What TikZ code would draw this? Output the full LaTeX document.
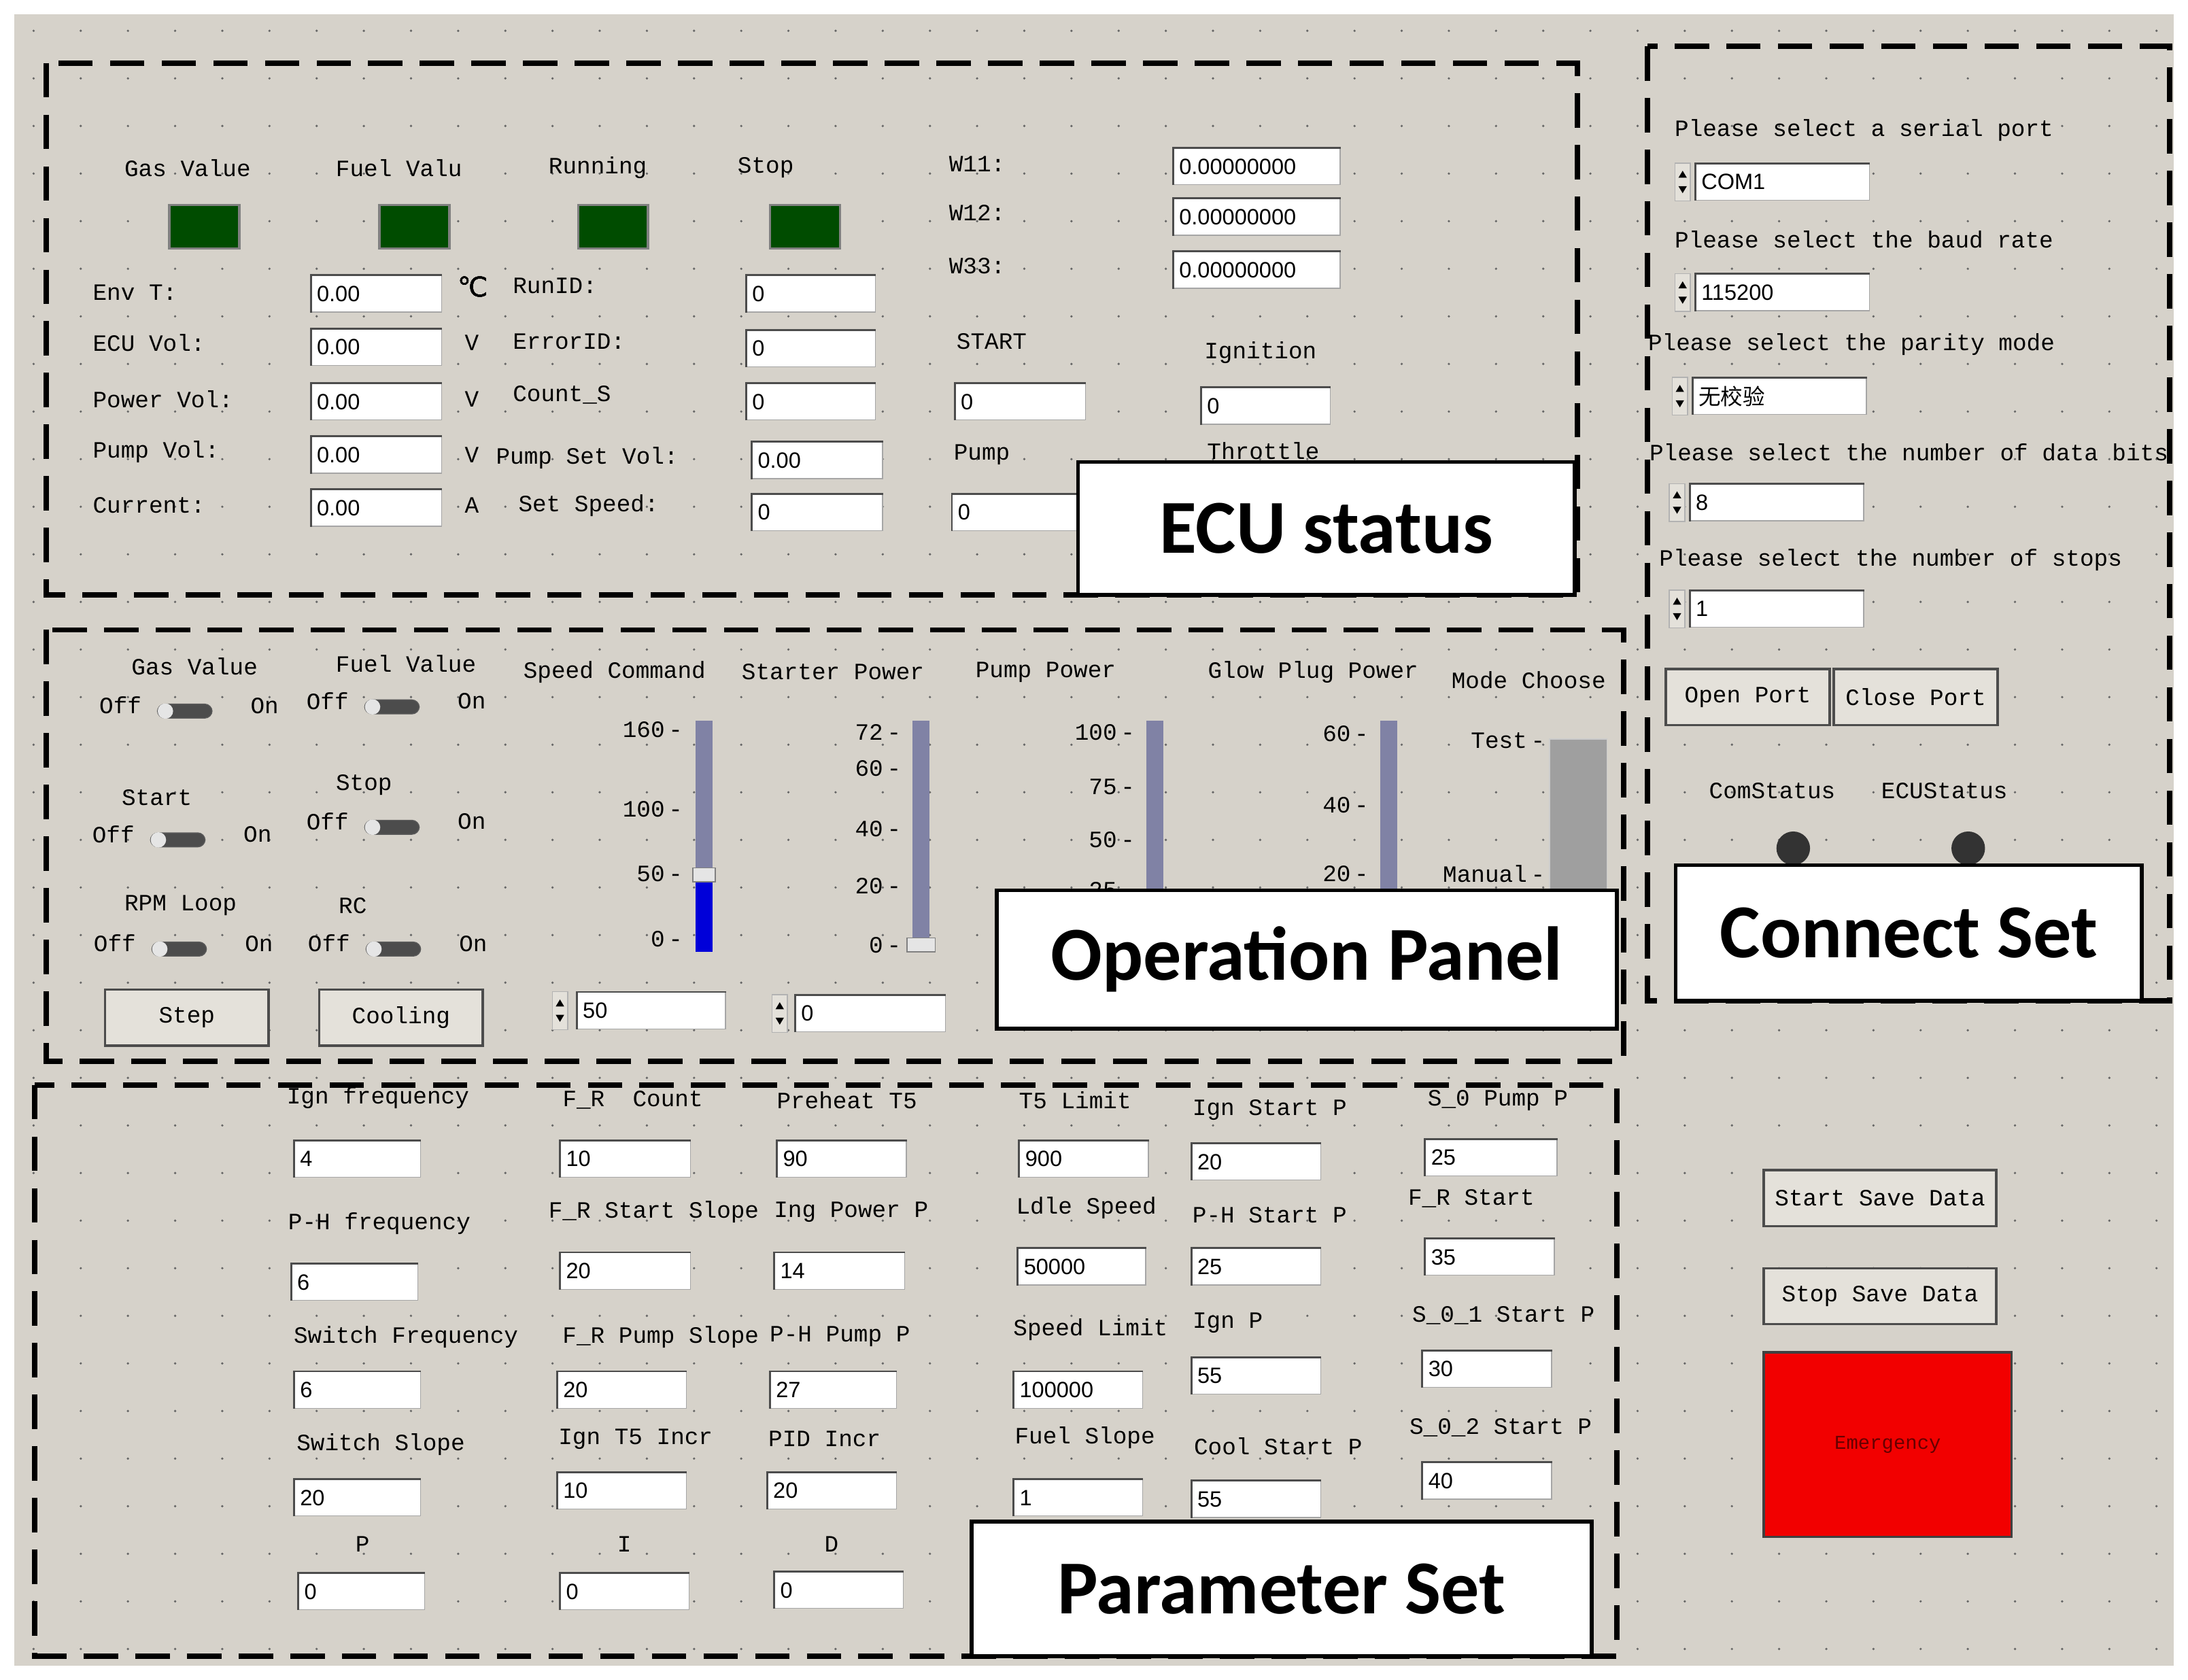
\documentclass[tikz,border=0pt]{standalone}
\usepackage{fontspec}
\usetikzlibrary{calc}
\setmainfont{Liberation Sans}
\newfontfamily\guimono{Liberation Mono}
\newfontfamily\bigf{Carlito}
\newfontfamily\cjk{Noto Sans CJK SC}
\newfontfamily\dejavu{DejaVu Sans}
\definecolor{bgc}{RGB}{214,210,202}
\definecolor{lightlab}{RGB}{228,225,218}
\definecolor{trk}{RGB}{128,130,165}
\begin{document}
\begin{tikzpicture}[x=0.02cm,y=-0.02cm,
 lab/.style={font=\guimono\fontsize{9.5}{10}\selectfont,inner sep=0pt},
 fld/.style={draw=gray!70,fill=white,minimum height=26*0.02cm,inner sep=0pt,anchor=west},
 fldt/.style={anchor=west,inner sep=0pt,font=\fontsize{9}{10}\selectfont},
 dbox/.style={line width=2.2pt,dash pattern=on 14pt off 7pt},
 bigbox/.style={draw,line width=1.6pt,fill=white,font=\bigf\bfseries\fontsize{31}{34}\selectfont},
 btn/.style={draw=gray!60!black,fill=lightlab,font=\guimono\fontsize{9.5}{10}\selectfont,inner sep=0pt}]
\useasboundingbox (0,0) rectangle (1563,1200);
\fill[white] (0,0) rectangle (1563,1200);
\fill[bgc] (10,10) rectangle (1553,1190);
\foreach \i in {0,...,45} \foreach \j in {0,...,34} \fill[black!60] (24+33.7*\i,22+34*\j) circle (0.9);
% macros
\newcommand\tf[5]{\node[fld,minimum width=(#3-#2)*0.02cm] (#1) at (#2,#4) {};
 \draw[gray!60!black,line width=0.8pt] (#1.south west) -- (#1.north west) -- (#1.north east);
 \node[fldt] at ($(#1.west)+(4,0)$) {#5};}
\newcommand\lb[3]{\node[lab] (#1) at #2 {#3};}
\newcommand\led[2]{\node[draw=gray,fill=green!30!black,minimum width=1cm,minimum height=0.62cm,line width=1pt] (#1) at #2 {};}
\newcommand\sw[2]{\node[draw=gray!70!black,fill=gray!60!black,rounded corners=3pt,minimum width=0.78cm,minimum height=0.2cm,inner sep=0pt] (#1) at #2 {};
 \fill[gray!20] ($(#1.west)+(6,0)$) circle (5.5);}
\newcommand\spin[2]{\node[draw=gray!60,fill=lightlab,minimum width=0.22cm,minimum height=0.54cm,inner sep=0pt] (#1) at #2 {};
 \fill ($(#1.center)+(-3,-3)$) -- ++(6,0) -- ++(-3,-5) -- cycle; \fill ($(#1.center)+(-3,3)$) -- ++(6,0) -- ++(-3,5) -- cycle;}
% ===== ECU status
\draw[dbox] (33,45) rectangle (1127,425);
\lb{a1}{(134,120)}{Gas Value}\lb{a2}{(285,120)}{Fuel Valu}\lb{a3}{(427,120)}{Running}\lb{a4}{(547,120)}{Stop}
\led{l1}{(146,162)}\led{l2}{(296,162)}\led{l3}{(438,162)}\led{l4}{(575,162)}
\lb{w1}{(698,117)}{W11:}\lb{w2}{(698,152)}{W12:}\lb{w3}{(698,190)}{W33:}
\tf{fw1}{838}{957}{119}{0.00000000}\tf{fw2}{838}{957}{155}{0.00000000}\tf{fw3}{838}{957}{193}{0.00000000}
\foreach \t/\y [count=\k] in {Env T:/209,ECU Vol:/245,Power Vol:/285,Pump Vol:/323,Current:/361}
 \node[lab,anchor=west] (el\k) at (66,\y) {\t};
\foreach \y [count=\k] in {210,248,287,325,363} \tf{ef\k}{222}{315}{\y}{0.00}
\node[font=\dejavu\fontsize{11}{12}\selectfont,inner sep=0pt] (u1) at (338,205) {℃};
\foreach \t/\y [count=\k from 2] in {V/245,V/285,V/325,A/361} \node[lab] (u\k) at (337,\y) {\t};
\node[lab,anchor=west] (m1) at (366,204) {RunID:};
\node[lab,anchor=west] (m2) at (366,244) {ErrorID:};
\node[lab,anchor=west] (m3) at (366,282) {Count\_S};
\node[lab,anchor=west] (m4) at (354,327) {Pump Set Vol:};
\node[lab,anchor=west] (m5) at (370,361) {Set Speed:};
\tf{mf1}{533}{625}{210}{0}\tf{mf2}{533}{625}{249}{0}\tf{mf3}{533}{625}{287}{0}
\tf{mf4}{537}{630}{329}{0.00}\tf{mf5}{537}{630}{366}{0}
\node[lab,anchor=west] (st) at (683,244) {START};\tf{stf}{682}{775}{287}{0}
\node[lab,anchor=west] (pu) at (681,325) {Pump};\tf{puf}{680}{775}{366}{0}
\node[lab,anchor=west] (ig) at (860,252) {Ignition};\tf{igf}{858}{950}{290}{0}
\node[lab,anchor=west] (th) at (862,322) {Throttle};
\node[bigbox,minimum width=7.1cm,minimum height=1.9cm] (B1) at (947.5,377.5) {ECU status};
% ===== Operation panel
\draw[dbox] (33,450) rectangle (1160,758);
\lb{g1}{(139,476)}{Gas Value}\lb{g2}{(290,474)}{Fuel Value}
\lb{g3}{(112,570)}{Start}\lb{g4}{(260,561)}{Stop}\lb{g5}{(129,647)}{RPM Loop}\lb{g6}{(252,647)}{RC}
\foreach \x/\y/\n in {132/508/1,280/505/2,127/600/3,280/591/4,128/678/5,281/678/6}{
 \sw{s\n}{(\x,\y)} \node[lab] (off\n) at (\x-46,\y-4) {Off}; \node[lab] (on\n) at (\x+57,\y-4) {On};}
\node[btn,minimum width=2.34cm,minimum height=0.8cm,line width=1pt] (bs) at (133.5,727) {Step};
\node[btn,minimum width=2.34cm,minimum height=0.8cm,line width=1pt] (bc) at (286.5,727) {Cooling};
\lb{h1}{(439,480)}{Speed Command}\lb{h2}{(595,480)}{Starter Power}\lb{h3}{(747,480)}{Pump Power}
\lb{h4}{(938,480)}{Glow Plug Power}\lb{h5}{(1092,486)}{Mode Choose}
% sliders
\fill[trk] (497,515) rectangle (509,680);\fill[blue!85!black] (497,625) rectangle (509,680);
\fill[gray!20,draw=gray] (495,620) rectangle (511,630);
\foreach \v/\y in {160/521,100/578,50/624,0/671} \node[lab,anchor=east] at (488,\y) {\v\,-};
\fill[trk] (652,515) rectangle (664,680);\fill[gray!20,draw=gray] (648,670) rectangle (668,680);
\foreach \v/\y in {72/523,60/549,40/592,20/633,0/675} \node[lab,anchor=east] at (644,\y) {\v\,-};
\fill[trk] (819,515) rectangle (831,680);
\foreach \v/\y in {100/523,75/562,50/600,25/636} \node[lab,anchor=east] at (811,\y) {\v\,-};
\fill[trk] (986,515) rectangle (998,680);
\foreach \v/\y in {60/524,40/575,20/624} \node[lab,anchor=east] at (978,\y) {\v\,-};
\fill[gray!75,draw=gray!40] (1107,528) rectangle (1148,660);
\node[lab,anchor=east] at (1104,529) {Test\,-};\node[lab,anchor=east] at (1104,624) {Manual\,-};
\spin{sp1}{(400,722)}\tf{of1}{412}{518}{722}{50}
\spin{sp2}{(557,724)}\tf{of2}{568}{675}{724}{0}
\node[bigbox,minimum width=8.86cm,minimum height=1.98cm] (B2) at (933.5,685.5) {Operation Panel};
% ===== Parameter set
\draw[dbox] (25,775) rectangle (1155,1183);
\foreach \t/\x/\y/\a/\b/\fy/\v [count=\k] in {
 Ign frequency/270/784/210/300/828/4, P-H frequency/271/874/208/298/916/6, Switch Frequency/290/955/210/300/993/6,
 Switch Slope/272/1032/210/300/1070/20, P/259/1103/213/303/1137/0,
 F\_R\ \ Count/452/786/400/493/828/10, F\_R Start Slope/467/866/400/493/908/20, F\_R Pump Slope/472/955/398/490/993/20,
 Ign T5 Incr/454/1028/398/490/1065/10, I/446/1103/400/492/1137/0,
 Preheat T5/605/786/555/647/828/90, Ing Power P/608/866/553/646/908/14, P-H Pump P/600/955/550/640/993/27,
 PID Incr/589/1028/548/640/1065/20, D/594/1103/553/645/1136/0,
 T5 Limit/768/786/728/820/828/900, Ldle Speed/776/863/727/818/905/50000, Speed Limit/779/950/724/816/993/100000,
 Fuel Slope/775/1027/724/816/1070/1,
 Ign Start P/907/793/851/943/830/20, P-H Start P/907/868/851/943/905/25, Ign P/877/945/851/943/983/55,
 Cool Start P/913/1033/851/943/1071/55,
 S\_0 Pump P/1070/786/1018/1112/827/25, F\_R Start/1051/856/1018/1110/898/35, S\_0\_1 Start P/1074/940/1016/1108/978/30,
 S\_0\_2 Start P/1072/1020/1016/1108/1058/40}{
 \node[lab] (pl\k) at (\x,\y) {\t}; \tf{pf\k}{\a}{\b}{\fy}{\v}}
\node[bigbox,minimum width=8.86cm,minimum height=1.92cm] (B3) at (915.5,1135) {Parameter Set};
% ===== Connect set
\draw[dbox] (1177,33) rectangle (1550,715);
\foreach \t/\lx/\y/\sx/\fy/\v [count=\k] in {
 Please select a serial port/1196/93/1202/130/COM1, Please select the baud rate/1196/171/1202/209/115200,
 Please select the parity mode/1177/246/1200/283/{\cjk 无校验}, Please select the number of data bits/1178/323/1198/359/8,
 Please select the number of stops/1185/400/1198/435/1}{
 \node[lab,anchor=west] (cl\k) at (\lx,\y) {\t};
 \spin{cs\k}{(\sx,\fy)} \tf{cf\k}{\sx+9}{\sx+115}{\fy}{\v}}
\node[btn,minimum width=2.34cm,minimum height=0.8cm,line width=1pt] (op) at (1248.5,498) {Open Port};
\node[btn,minimum width=2.34cm,minimum height=0.8cm,line width=1pt] (cp) at (1368.5,498) {Close Port};
\lb{cs}{(1266,565)}{ComStatus}\lb{es}{(1389,565)}{ECUStatus}
\fill[gray!40!black] (1281,606) circle (12);\fill[gray!40!black] (1406,606) circle (12);
\node[bigbox,minimum width=6.66cm,minimum height=1.94cm] (B4) at (1363.5,666.5) {Connect Set};
% ===== right buttons
\node[btn,minimum width=3.32cm,minimum height=0.8cm,line width=1pt] (ss) at (1343,856) {Start Save Data};
\node[btn,minimum width=3.32cm,minimum height=0.8cm,line width=1pt] (ps) at (1343,926) {Stop Save Data};
\node[draw=gray!50!black,fill=red!95!black,minimum width=3.54cm,minimum height=2.64cm,line width=1pt,font=\guimono\fontsize{8}{9}\selectfont,text=red!40!black] (em) at (1348.5,1032) {Emergency};
\end{tikzpicture}
\end{document}
